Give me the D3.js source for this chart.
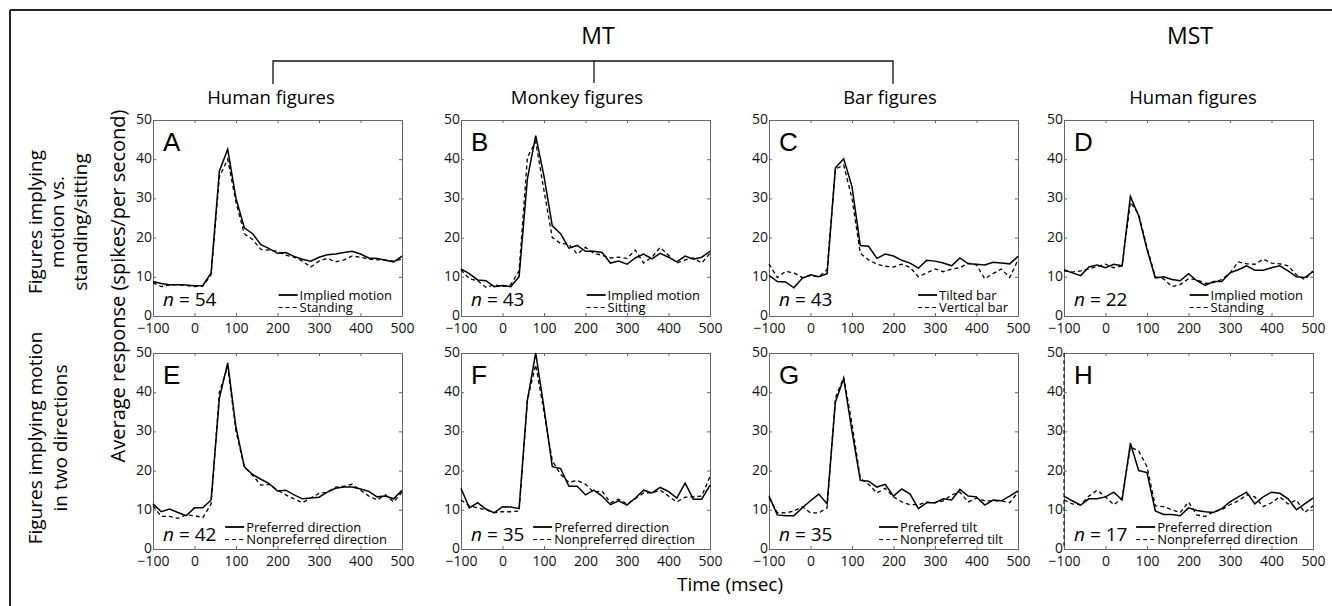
<!DOCTYPE html>
<html><head><meta charset="utf-8">
<script src="https://cdn.jsdelivr.net/npm/d3@7"></script>
<style>body{margin:0;background:#fff}svg{display:block}</style>
</head><body>
<svg id="chart" width="1332" height="606"></svg>
<script>
const times = [-100,-80,-60,-40,-20,0,20,40,60,80,100,120,140,160,180,200,220,240,260,280,300,320,340,360,380,400,420,440,460,480,500];
const xTicks = [-100,0,100,200,300,400,500];
const yTicks = [0,10,20,30,40,50];

const aSolid  = [8.8,8.3,8.0,8.0,7.9,7.7,7.8,11,37,42.5,30,22.5,21,18.2,17.2,16,16.2,15.2,14.5,14.0,15.0,15.6,15.8,16.2,16.5,15.8,14.8,14.7,14.2,13.8,15.3];
const aDashed = [8.5,7.5,7.9,8.0,7.8,7.5,7.6,10.5,35.5,40,29,21,19.5,17,16.8,16.5,15.5,15,14,12.5,14,14.7,13.8,14.3,15.3,15,14.5,14.3,14.3,14,14.5];
const bSolid  = [12,10.8,9.2,9.0,7.5,7.8,7.5,10,35,46,35.6,23,21,17.3,18,16.5,16.5,16.2,13.5,14,13.2,14.8,15.8,14.6,16,15,13.8,15.3,14.5,15,16.5];
const bDashed = [11.8,9.5,9.0,7.3,8.0,7.5,8.0,11.5,40.5,44.5,32,20,18.5,18.3,15.8,17.5,16,15.5,14.8,15,14.7,16.8,13.5,15,17.5,15.5,13.5,14.3,14.8,13.5,16];
const cSolid  = [10.4,8.8,8.7,7.2,9.6,10.5,10,10.8,37.8,40.1,33,18,17.8,14.7,15.8,15.3,14.2,13.5,12.2,14.2,14,13.5,12.8,14.8,13.3,13.2,13,13.7,13.5,13.3,15.2];
const cDashed = [13.3,9.8,11.4,11,9.8,10.3,10,11.8,37.5,38.5,30,16,14.3,13.2,12.7,12.5,13.2,12.4,10,11,12,11.3,12,12.3,13.5,13,9.5,10.8,12,9.8,14.3];
const dSolid  = [11.8,11,10.3,12.5,13,12.3,13.2,12.8,30.5,25.5,17,9.7,10,9.3,9,10.8,9,7.8,8.8,8.8,11,11.8,12.8,11.7,11.7,12.3,12.8,11.5,10,9.8,11.3];
const dDashed = [11.5,11.2,11.5,12,12.6,13.2,12.3,12.8,29,26,17.5,10,9.5,7.5,8.0,9.5,9.3,8.3,8.5,9.3,11,13.8,13.3,13.2,14.5,13.5,13.3,12.8,10.5,9.3,11.5];
const eSolid  = [11.5,9.5,10.2,9.3,8.5,10.5,10.5,12.5,38.5,47.5,31,21,19,17.8,16.7,14.8,15,13.8,12.8,13,13.2,14.5,15.5,15.8,15.8,15.3,14.7,13.3,13.5,12.8,15];
const eDashed = [11,8.3,8.3,7.8,8.7,8.5,8.0,11.5,40,46.5,30,21,18.8,16.3,16.5,15,13.8,12.8,11.8,13,14.2,14.5,15.8,16,16.5,15,13.5,12.5,13.8,12,14.5];
const fSolid  = [15.5,10.5,11.8,10.2,9.2,10.8,10.7,10.3,38,50,36,21,20.5,16,16,13.8,15,13.5,11.3,12.3,11.2,13,15,14.3,15.7,14.7,13,16.8,12.7,12.7,16.3];
const fDashed = [12.5,11,10.5,10,9.3,9.5,9.5,9.7,38,47,35,22.5,19,17,17.5,16.5,14.5,14.8,11.8,12.7,11.5,12.8,14.3,14.3,15,13.5,12,13.2,13.3,13.5,18.5];
const gSolid  = [13.6,8.7,8.5,8.5,10.5,12.3,14,11.5,37.5,43.5,30,17.5,17.3,15.8,16.5,13.5,15.3,14,10.3,11.8,11.8,12.8,12.5,15.2,13.5,13.3,11.2,12.5,12.3,13.5,14.8];
const gDashed = [13,9.3,9.2,9.7,10.8,9.2,9.2,10.5,38.5,43.8,32,18,16.5,14.3,15.5,13.3,12,11.3,11.3,12,11.8,12.3,13.8,14.5,12,13,12.3,12.3,12.3,11.8,14.5];
const hSolid  = [13.5,12.3,11.2,12.8,12.8,13.3,14.5,12.5,27,20,19.5,9.7,8.8,8.8,8.5,10.5,9.8,9.5,9.3,10.3,12,13.3,14.5,11.5,13.3,14.5,14.2,12.8,10,11.5,13];
const hDashed = [12.5,11.5,11.3,13.5,15,13.3,11.3,13,26,25,21,11,10.8,10,9.3,12,8.7,8.3,9.5,10,11.3,12.3,13.8,13.3,10.8,11.8,13.3,11.5,12.5,9.3,11];

const panelLetters = ["A","B","C","D","E","F","G","H"];
const panelN = ["54","43","43","22","42","35","35","17"];
const solidLabels = ["Implied motion","Implied motion","Tilted bar","Implied motion","Preferred direction","Preferred direction","Preferred tilt","Preferred direction"];
const dashedLabels = ["Standing","Sitting","Vertical bar","Standing","Nonpreferred direction","Nonpreferred direction","Nonpreferred tilt","Nonpreferred direction"];
const solidSeries = [aSolid,bSolid,cSolid,dSolid,eSolid,fSolid,gSolid,hSolid];
const dashedSeries = [aDashed,bDashed,cDashed,dDashed,eDashed,fDashed,gDashed,hDashed];
const columnTitles = ["Human figures","Monkey figures","Bar figures","Human figures"];
const rowLabels = [["Figures implying","motion vs.","standing/sitting"],["Figures implying motion","in two directions"]];

const svg = d3.select("#chart");
const FONT = "'Open Sans', 'DejaVu Sans', sans-serif";

// frame
svg.append("line").attr("x1",10).attr("y1",10).attr("x2",1332).attr("y2",10).attr("stroke","#222").attr("stroke-width",2);
svg.append("line").attr("x1",10).attr("y1",10).attr("x2",10).attr("y2",606).attr("stroke","#222").attr("stroke-width",2);

const colX = [153,461,769,1064];
const rowY = [120,353];
const W = 249, H = 196;

// group labels
svg.append("text").attr("x",598).attr("y",44).attr("text-anchor","middle").attr("font-family",FONT).attr("font-size",23).text("MT");
svg.append("text").attr("x",1190).attr("y",44).attr("text-anchor","middle").attr("font-family",FONT).attr("font-size",23).text("MST");
// bracket
const br = svg.append("g").attr("stroke","#111").attr("stroke-width",1.3).attr("fill","none");
br.append("path").attr("d","M273,84V61H893V84");
br.append("line").attr("x1",594).attr("x2",594).attr("y1",61).attr("y2",83);

const titleCx = [271,577,890,1193];
columnTitles.forEach((t,i)=>{
  svg.append("text").attr("x",titleCx[i]).attr("y",104).attr("text-anchor","middle")
    .attr("font-family",FONT).attr("font-size",18.5).text(t);
});

// row labels
const rowCy = [222,438];
rowLabels.forEach((lines,r)=>{
  const x0 = 35;
  const step = r===0 ? 22.5 : 25;
  lines.forEach((l,k)=>{
    svg.append("text").attr("transform",`translate(${x0+k*step},${rowCy[r]}) rotate(-90)`)
      .attr("text-anchor","middle").attr("dy","0.35em").attr("font-family",FONT).attr("font-size",19).text(l);
  });
});
// y axis label
svg.append("text").attr("transform","translate(118,286) rotate(-90)").attr("text-anchor","middle").attr("dy","0.35em")
  .attr("font-family",FONT).attr("font-size",20).text("Average response (spikes/per second)");
// x axis label
svg.append("text").attr("x",730).attr("y",591).attr("text-anchor","middle").attr("font-family",FONT).attr("font-size",19).text("Time (msec)");

for (let p=0;p<8;p++){
  const r = Math.floor(p/4), c = p%4;
  const x0 = colX[c], y0 = rowY[r];
  const g = svg.append("g").attr("transform",`translate(${x0},${y0})`);
  const x = d3.scaleLinear().domain([-100,500]).range([0,W]);
  const y = d3.scaleLinear().domain([0,50]).range([H,0]);

  // axes (inward ticks)
  const axB = d3.axisBottom(x).tickValues(xTicks).tickSize(-3).tickPadding(7).tickFormat(d=>d<0?"\u2212"+(-d):d);
  const axT = d3.axisTop(x).tickValues(xTicks).tickSize(-3).tickFormat("");
  const axL = d3.axisLeft(y).tickValues(yTicks).tickSize(-3).tickPadding(1);
  const axR = d3.axisRight(y).tickValues(yTicks).tickSize(-3).tickFormat("");
  const style = sel=>{
    sel.selectAll("path.domain").attr("stroke","#666").attr("stroke-width",1);
    sel.selectAll(".tick line").attr("stroke","#666");
    sel.selectAll("text").attr("font-family",FONT).attr("font-size",14).attr("fill","#111");
  };
  g.append("g").attr("transform",`translate(0,${H})`).call(axB).call(style);
  g.append("g").call(axT).call(style);
  g.append("g").call(axL).call(style).selectAll(".tick text").attr("dy","0.25em");
  g.append("g").attr("transform",`translate(${W},0)`).call(axR).call(style);

  // panel H: the original shows a dashed stroke over its left axis
  if (p===7) {
    g.append("line").attr("x1",x(-100)).attr("x2",x(-100)).attr("y1",y(50)).attr("y2",y(0))
      .attr("stroke","#222").attr("stroke-width",1.3).attr("stroke-dasharray","4,3");
  }

  const line = d3.line().x((d,i)=>x(times[i])).y(d=>y(d));
  g.append("path").datum(dashedSeries[p]).attr("d",line).attr("fill","none").attr("stroke","#000").attr("stroke-width",1.3).attr("stroke-dasharray","4,3");
  g.append("path").datum(solidSeries[p]).attr("d",line).attr("fill","none").attr("stroke","#000").attr("stroke-width",1.5);

  // panel letter
  g.append("text").attr("x",10).attr("y",31).attr("font-family","'Liberation Sans', Arial, sans-serif").attr("font-size",26).text(panelLetters[p]);
  // n label
  const nt = g.append("text").attr("x",10).attr("y",H-(r===0?10:8)).attr("font-family",FONT).attr("font-size",19);
  nt.append("tspan").attr("font-style","italic").text("n");
  nt.append("tspan").text(" = "+panelN[p]);

  // legend
  const lg = g.append("g");
  const t1 = lg.append("text").attr("font-family",FONT).attr("font-size",13).attr("dy","0.35em").text(solidLabels[p]);
  const t2 = lg.append("text").attr("font-family",FONT).attr("font-size",13).attr("dy","0.35em").text(dashedLabels[p]);
  const wmax = Math.max(t1.node().getComputedTextLength(), t2.node().getComputedTextLength());
  const pad = r===0 ? 10 : 15;
  const tx = W - pad - wmax;
  const ly1 = r===0 ? H-21 : H-22, ly2 = ly1+12.5;
  t1.attr("x",tx).attr("y",ly1);
  t2.attr("x",tx).attr("y",ly2);
  lg.append("line").attr("x1",tx-21).attr("x2",tx-2).attr("y1",ly1).attr("y2",ly1).attr("stroke","#000").attr("stroke-width",1.8);
  lg.append("line").attr("x1",tx-21).attr("x2",tx-2).attr("y1",ly2).attr("y2",ly2).attr("stroke","#000").attr("stroke-width",1.2).attr("stroke-dasharray","4,3");
}
</script>
</body></html>
